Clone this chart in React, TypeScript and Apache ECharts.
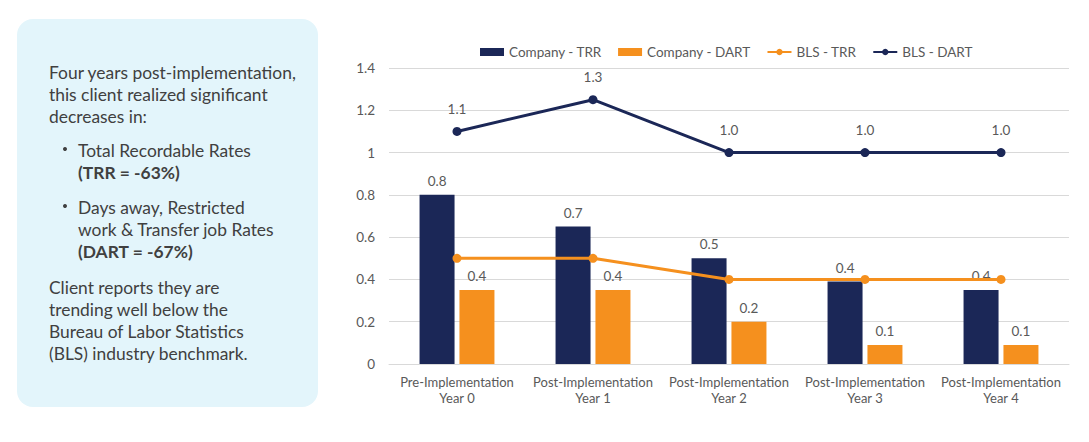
import React, { useEffect, useRef } from "react";
import * as echarts from "echarts";

const categories = [
  "Pre-Implementation\nYear 0",
  "Post-Implementation\nYear 1",
  "Post-Implementation\nYear 2",
  "Post-Implementation\nYear 3",
  "Post-Implementation\nYear 4",
];
const companyTRR = [0.8, 0.65, 0.5, 0.39, 0.35];
const companyDART = [0.35, 0.35, 0.2, 0.09, 0.09];
const blsTRR = [0.5, 0.5, 0.4, 0.4, 0.4];
const blsDART = [1.1, 1.25, 1.0, 1.0, 1.0];
const yTicks = { min: 0, max: 1.4, interval: 0.2 };

const panelLines: { text: string; x: number; y: number; bold?: boolean }[] = [
  { text: "Four years post-implementation,", x: 49, y: 72 },
  { text: "this client realized significant", x: 49, y: 94 },
  { text: "decreases in:", x: 49, y: 116 },
  { text: "Total Recordable Rates", x: 78, y: 150 },
  { text: "(TRR = -63%)", x: 78, y: 172, bold: true },
  { text: "Days away, Restricted", x: 78, y: 207 },
  { text: "work & Transfer job Rates", x: 78, y: 229 },
  { text: "(DART = -67%)", x: 78, y: 251, bold: true },
  { text: "Client reports they are", x: 49, y: 287 },
  { text: "trending well below the", x: 49, y: 309 },
  { text: "Bureau of Labor Statistics", x: 49, y: 331 },
  { text: "(BLS) industry benchmark.", x: 49, y: 353 },
];
const bulletYs = [150, 207];

const NAVY = "#1b2757";
const ORANGE = "#f5901e";
const GREY = "#595959";
const FONT = "Lato, 'Open Sans', sans-serif";

const fmt = (p: any) => (Math.round(p.value * 10) / 10).toFixed(1);

export default function App() {
  const ref = useRef<HTMLDivElement>(null);
  useEffect(() => {
    if (!ref.current) return;
    const chart = echarts.init(ref.current, undefined, { renderer: "svg" });
    const graphic: any[] = [
      {
        type: "rect",
        shape: { x: 17, y: 19, width: 301, height: 388, r: 16 },
        style: { fill: "#e3f5fb" },
        z: -1,
      },
      ...panelLines.map((l) => ({
        type: "text",
        x: l.x,
        y: l.y,
        style: {
          text: l.text,
          fill: "#404040",
          font: `${l.bold ? "bold " : ""}17.4px ${FONT}`,
          verticalAlign: "middle",
        },
      })),
      ...bulletYs.map((y) => ({
        type: "circle",
        shape: { cx: 65, cy: y - 1, r: 2 },
        style: { fill: "#404040" },
      })),
    ];
    chart.setOption({
      animation: false,
      textStyle: { fontFamily: FONT },
      graphic,
      legend: {
        top: 40,
        left: 475,
        itemWidth: 24,
        itemHeight: 8,
        itemGap: 16,
        textStyle: { color: GREY, fontSize: 13.5, fontFamily: FONT },
        data: [
          { name: "Company - TRR", icon: "rect" },
          { name: "Company - DART", icon: "rect" },
          "BLS - TRR",
          "BLS - DART",
        ],
      },
      grid: { left: 389, right: 20, top: 68, bottom: 78 },
      xAxis: {
        type: "category",
        data: categories,
        axisTick: { show: false },
        axisLine: { lineStyle: { color: "#d9d9d9" } },
        axisLabel: {
          interval: 0,
          color: GREY,
          fontSize: 13,
          lineHeight: 16,
          margin: 10,
          fontFamily: FONT,
        },
      },
      yAxis: {
        type: "value",
        min: yTicks.min,
        max: yTicks.max,
        interval: yTicks.interval,
        axisLine: { show: false },
        axisTick: { show: false },
        splitLine: { lineStyle: { color: "#d9d9d9" } },
        axisLabel: {
          color: GREY,
          fontSize: 13.5,
          margin: 14,
          fontFamily: FONT,
          formatter: (v: number) => String(Math.round(v * 10) / 10),
        },
      },
      series: [
        {
          name: "Company - TRR",
          type: "bar",
          data: companyTRR,
          barWidth: 35,
          barGap: "14%",
          itemStyle: { color: NAVY },
          label: {
            show: true,
            position: "top",
            distance: 7,
            color: GREY,
            fontSize: 13.5,
            fontFamily: FONT,
            formatter: fmt,
          },
          z: 2,
        },
        {
          name: "Company - DART",
          type: "bar",
          data: companyDART,
          barWidth: 35,
          itemStyle: { color: ORANGE },
          label: {
            show: true,
            position: "top",
            distance: 7,
            color: GREY,
            fontSize: 13.5,
            fontFamily: FONT,
            formatter: fmt,
          },
          z: 2,
        },
        {
          name: "BLS - TRR",
          type: "line",
          data: blsTRR,
          symbol: "circle",
          symbolSize: 9,
          lineStyle: { color: ORANGE, width: 3 },
          itemStyle: { color: ORANGE },
          z: 3,
        },
        {
          name: "BLS - DART",
          type: "line",
          data: blsDART,
          symbol: "circle",
          symbolSize: 9,
          lineStyle: { color: NAVY, width: 3 },
          itemStyle: { color: NAVY },
          label: {
            show: true,
            position: "top",
            distance: 11,
            color: GREY,
            fontSize: 13.5,
            fontFamily: FONT,
            formatter: fmt,
          },
          z: 3,
        },
      ],
    });
    return () => chart.dispose();
  }, []);
  return (
    <div
      ref={ref}
      style={{ position: "fixed", left: 0, top: 0, width: 1089, height: 442, background: "#ffffff" }}
    />
  );
}
